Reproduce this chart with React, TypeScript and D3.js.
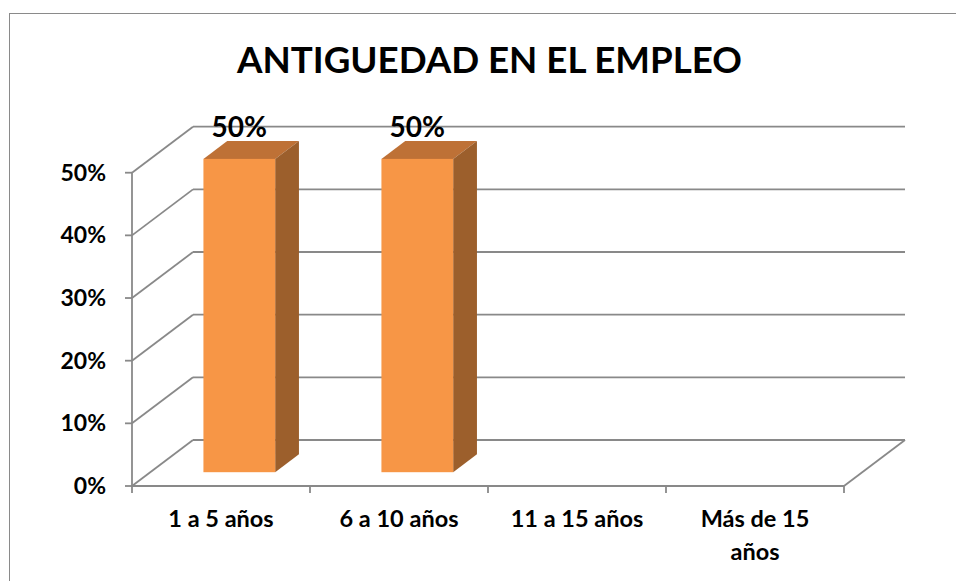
import React from "react";
import * as d3 from "d3";

const categories = ["1 a 5 años", "6 a 10 años", "11 a 15 años", "Más de 15 años"];
const categoryLines = [["1 a 5 años"], ["6 a 10 años"], ["11 a 15 años"], ["Más de 15", "años"]];
const values = [0.5, 0.5, 0, 0];
const yTicks = [0, 0.1, 0.2, 0.3, 0.4, 0.5];
const title = "ANTIGUEDAD EN EL EMPLEO";

const W = 956;
const H = 581;
const FONT = "Lato, 'Open Sans', sans-serif";

export default function App() {
  const x = d3.scaleBand<string>().domain(categories).range([132, 844]).paddingInner(0).paddingOuter(0);
  const y = d3.scaleLinear().domain([0, 0.5]).range([486, 172.7]);
  const DX = 61;
  const DY = -46;
  const pct = d3.format(".0%");
  const grid = "#898989";

  const z0 = 0.3;
  const z1 = 0.69;
  const barFrac = 0.403;

  const [x0, x1] = x.range();

  return (
    <svg width={W} height={H} style={{ position: "absolute", left: 0, top: 0, background: "#fff" }}>
      <rect x={9.5} y={13.5} width={W + 20} height={H + 20} fill="#fff" stroke="#8a8a8a" strokeWidth={1} />
      <text x={489.5} y={73} textAnchor="middle" fontFamily={FONT} fontWeight="bold" fontSize={36} textLength={505} lengthAdjust="spacingAndGlyphs" fill="#000">
        {title}
      </text>

      {yTicks.map((t) => (
        <g key={t}>
          <line x1={x0} y1={y(t)} x2={x0 + DX} y2={y(t) + DY} stroke={grid} strokeWidth={1.8} />
          <line x1={x0 + DX} y1={y(t) + DY} x2={x1 + DX} y2={y(t) + DY} stroke={grid} strokeWidth={1.8} />
          <line x1={x0 - 7} y1={y(t)} x2={x0} y2={y(t)} stroke={grid} strokeWidth={1.8} />
          <text x={106} y={y(t)} dy="0.35em" textAnchor="end" fontFamily={FONT} fontWeight="bold" fontSize={23} fill="#000">
            {pct(t)}
          </text>
        </g>
      ))}
      <line x1={x0} y1={y(0)} x2={x1} y2={y(0)} stroke={grid} strokeWidth={1.8} />
      <line x1={x1} y1={y(0)} x2={x1 + DX} y2={y(0) + DY} stroke={grid} strokeWidth={1.8} />
      <line x1={x0} y1={y(0.5)} x2={x0} y2={y(0) + 7} stroke={grid} strokeWidth={1.8} />
      {categories.map((c) => (
        <line key={c} x1={(x(c) as number) + x.bandwidth()} y1={y(0)} x2={(x(c) as number) + x.bandwidth()} y2={y(0) + 7} stroke={grid} strokeWidth={1.8} />
      ))}

      {categories.map((c, i) => {
        const v = values[i];
        if (v <= 0) return null;
        const cx = (x(c) as number) + x.bandwidth() / 2;
        const bw = x.bandwidth() * barFrac;
        const fx = cx - bw / 2 + DX * z0;
        const fyb = y(0) + DY * z0;
        const fyt = y(v) + DY * z0;
        const ddx = DX * (z1 - z0);
        const ddy = DY * (z1 - z0);
        return (
          <g key={c}>
            <polygon
              points={`${fx},${fyt} ${fx + bw},${fyt} ${fx + bw + ddx},${fyt + ddy} ${fx + ddx},${fyt + ddy}`}
              fill="#BE7136"
            />
            <polygon
              points={`${fx + bw},${fyt} ${fx + bw + ddx},${fyt + ddy} ${fx + bw + ddx},${fyb + ddy} ${fx + bw},${fyb}`}
              fill="#9C5F2C"
            />
            <rect x={fx} y={fyt} width={bw} height={fyb - fyt} fill="#F79646" />
            <text x={fx + bw / 2} y={137} textAnchor="middle" fontFamily={FONT} fontWeight="bold" fontSize={28} fill="#000">
              {pct(v)}
            </text>
          </g>
        );
      })}

      {categories.map((c, i) => (
        <text key={c} x={(x(c) as number) + x.bandwidth() / 2} y={527} textAnchor="middle" fontFamily={FONT} fontWeight="bold" fontSize={23.5} fill="#000">
          {categoryLines[i].map((ln, j) => (
            <tspan key={j} x={(x(c) as number) + x.bandwidth() / 2} dy={j === 0 ? 0 : 33}>
              {ln}
            </tspan>
          ))}
        </text>
      ))}
    </svg>
  );
}
